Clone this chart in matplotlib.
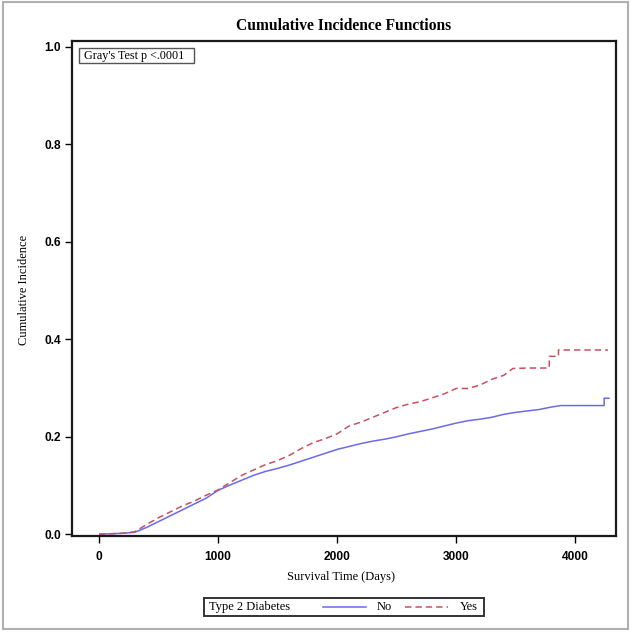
import matplotlib
matplotlib.use("Agg")
import matplotlib.pyplot as plt
from matplotlib.patches import Rectangle
from matplotlib.lines import Line2D

# ---- data ----
time_no = [0, 100, 200, 300, 400, 500, 600, 700, 800, 900, 1000, 1100, 1200, 1300,
           1400, 1500, 1600, 1700, 1800, 1900, 2000, 2100, 2200, 2300, 2400, 2500,
           2600, 2700, 2800, 2900, 3000, 3100, 3200, 3300, 3400, 3500, 3600, 3700,
           3800, 3880, 4000, 4100, 4243, 4243, 4290]
cif_no = [0, 0.001, 0.002, 0.004, 0.014, 0.026, 0.038, 0.050, 0.062, 0.074, 0.090,
          0.101, 0.111, 0.121, 0.129, 0.135, 0.142, 0.150, 0.158, 0.166, 0.174,
          0.180, 0.186, 0.191, 0.195, 0.200, 0.206, 0.211, 0.216, 0.222, 0.228,
          0.233, 0.236, 0.240, 0.246, 0.250, 0.253, 0.256, 0.261, 0.264, 0.264,
          0.264, 0.264, 0.279, 0.279]

time_yes = [0, 100, 200, 300, 400, 500, 600, 700, 800, 900, 1000, 1100, 1200, 1300,
            1400, 1500, 1600, 1700, 1800, 1900, 2000, 2100, 2200, 2300, 2400, 2500,
            2600, 2700, 2800, 2900, 3000, 3100, 3200, 3300, 3400, 3476, 3600, 3782,
            3782, 3859, 3859, 4000, 4275]
cif_yes = [0, 0.001, 0.002, 0.005, 0.020, 0.034, 0.046, 0.058, 0.068, 0.080, 0.091,
           0.106, 0.121, 0.132, 0.143, 0.151, 0.162, 0.176, 0.188, 0.196, 0.206,
           0.222, 0.230, 0.240, 0.250, 0.260, 0.267, 0.272, 0.280, 0.288, 0.299,
           0.299, 0.306, 0.318, 0.326, 0.340, 0.341, 0.341, 0.365, 0.365, 0.378,
           0.378, 0.378]

x_ticks = [0, 1000, 2000, 3000, 4000]
y_ticks = [0.0, 0.2, 0.4, 0.6, 0.8, 1.0]
group_labels = ["No", "Yes"]
legend_title = "Type 2 Diabetes"
title = "Cumulative Incidence Functions"
annotation = "Gray's Test p <.0001"

BLUE = "#6a6aea"
RED = "#c9505f"
DASH = (4.2, 2.6)
W, H = 633, 632

fig = plt.figure(figsize=(W / 100, H / 100), dpi=100)
fig.patch.set_facecolor("white")

def fx(x):
    return x / W

def fy(y):
    return 1 - y / H

ax = fig.add_axes([fx(72), fy(535.7), fx(616.3) - fx(72), fy(40.7) - fy(535.7)])

ax.plot(time_no, cif_no, color=BLUE, lw=1.1, solid_capstyle="butt")
ax.plot(time_yes, cif_yes, color=RED, lw=1.1, dashes=DASH)

ax.set_xlim(-227, 4345)
ax.set_ylim(-0.003, 1.0125)
ax.set_xticks(x_ticks)
ax.set_yticks(y_ticks)
ax.set_xticklabels([str(v) for v in x_ticks])
ax.set_yticklabels([f"{v:.1f}" for v in y_ticks])

for lab in ax.get_xticklabels() + ax.get_yticklabels():
    lab.set_fontfamily(["Liberation Sans", "DejaVu Sans"])
    lab.set_fontweight("bold")
    lab.set_fontsize(8.6)

ax.tick_params(axis="both", direction="out", length=5, width=1.0, color="black")
ax.tick_params(axis="x", pad=6)
ax.tick_params(axis="y", pad=3)
for s in ax.spines.values():
    s.set_linewidth(1.6)
    s.set_color("#1a1a1a")

serif = ["Liberation Serif", "DejaVu Serif"]
fig.text(fx(344), fy(25.5), title, ha="center", va="center", family=serif,
         weight="bold", size=11.2)
fig.text(fx(24), fy(290), "Cumulative Incidence", ha="center", va="center",
         rotation=90, family=serif, size=9)
fig.text(fx(341), fy(577), "Survival Time (Days)", ha="center", va="center",
         family=serif, size=9)

# Gray's test box
fig.add_artist(Rectangle((fx(79), fy(62.7)), fx(194) - fx(79), fy(48) - fy(62.7),
                         transform=fig.transFigure, fill=False, ec="#555555", lw=1.0))
fig.text(fx(84), fy(55.5), annotation, ha="left", va="center", family=serif, size=8.7)

# legend
fig.add_artist(Rectangle((fx(204.3), fy(616)), fx(484) - fx(204.3), fy(598.3) - fy(616),
                         transform=fig.transFigure, fill=False, ec="#333333", lw=1.4))
ly = fy(607.3)
fig.text(fx(209), ly, legend_title, ha="left", va="center", family=serif, size=9)
fig.add_artist(Line2D([fx(323), fx(366)], [ly, ly], transform=fig.transFigure,
                      color=BLUE, lw=1.1))
fig.text(fx(377), ly, group_labels[0], ha="left", va="center", family=serif, size=9)
fig.add_artist(Line2D([fx(405), fx(448)], [ly, ly], transform=fig.transFigure,
                      color=RED, lw=1.1, dashes=DASH))
fig.text(fx(460), ly, group_labels[1], ha="left", va="center", family=serif, size=9)

# outer frame
fig.add_artist(Rectangle((fx(3), fy(628.5)), fx(628) - fx(3), fy(2) - fy(628.5),
                         transform=fig.transFigure, fill=False, ec="#b0b0b0", lw=1.5))

fig.savefig("out.png", dpi=100, facecolor="white")
